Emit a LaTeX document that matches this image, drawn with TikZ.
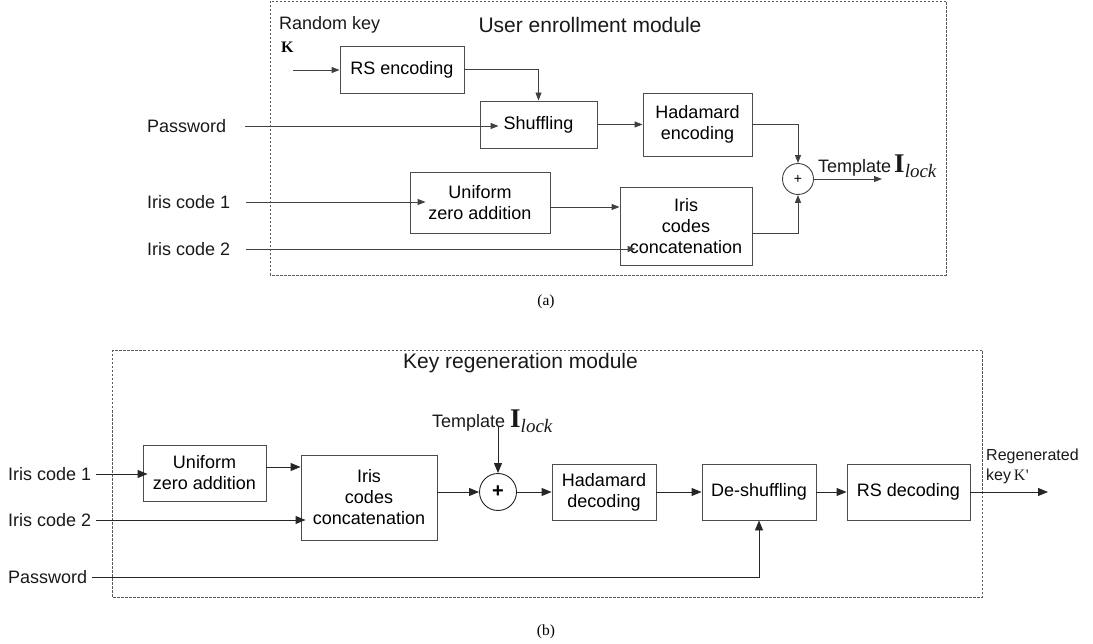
\documentclass[tikz,border=0pt]{standalone}
\usepackage{fontspec}
\setmainfont{Liberation Sans}
\newfontfamily\seriffam{Liberation Serif}
\usetikzlibrary{arrows.meta}
\tikzset{
  box/.style={draw=black!70, line width=0.9pt, align=center, inner sep=2pt, font=\fontsize{18}{21}\selectfont},
  lbl/.style={inner sep=0pt, font=\fontsize{18}{21}\selectfont, text=black!90},
  title/.style={inner sep=0pt, font=\fontsize{21}{24}\selectfont, text=black!90},
  conn/.style={draw=black!75, line width=0.9pt},
  arr/.style={conn, -{Triangle[length=8pt,width=6pt]}},
  arrb/.style={draw=black!85, line width=0.9pt, -{Triangle[length=10pt,width=8pt]}},
  sumc/.style={circle, draw=black!75, line width=0.9pt, inner sep=0pt},
  frame/.style={draw=black!65, line width=0.8pt, dash pattern=on 2.5pt off 1.5pt},
  captext/.style={inner sep=0pt, font=\seriffam\fontsize{15.5}{16}\selectfont}
}
\newcommand{\Ilock}{{\seriffam\fontsize{27}{27}\selectfont\bfseries I}\raisebox{-5pt}{\seriffam\itshape\fontsize{19}{19}\selectfont lock}}
\begin{document}
\begin{tikzpicture}[x=1pt,y=-1pt]
\useasboundingbox (0,0) rectangle (1093,644);
% ---------- (a) ----------
\draw[frame] (270,1) rectangle (946,275);
\node[title, anchor=center] (t1) at (590,25) {User enrollment module};
\node[lbl, anchor=base west] (rk) at (279,30) {Random key};
\node[inner sep=0pt, anchor=base west, font=\seriffam\bfseries\fontsize{16}{16}\selectfont] (kk) at (281,53) {K};
\node[box, minimum width=124, minimum height=47] (rs) at (402,69.5) {RS encoding};
\node[box, minimum width=117, minimum height=47] (shuf) at (538.5,124.5) {Shuffling};
\node[box, minimum width=109, minimum height=63] (hade) at (697.5,124.5) {Hadamard\\encoding};
\node[sumc, minimum size=31, font=\fontsize{14}{14}\selectfont] (c1) at (798,179) {+};
\node[box, minimum width=140, minimum height=61] (uni) at (480,202.5) {Uniform\\zero addition};
\node[box, minimum width=132, minimum height=78] (ic) at (686,226) {Iris\\codes\\concatenation};
\node[lbl, anchor=west] (pw) at (147,126) {Password};
\node[lbl, anchor=west] (ia1) at (147,202) {Iris code 1};
\node[lbl, anchor=west] (ia2) at (147,249) {Iris code 2};
\node[inner sep=0pt, anchor=base west, font=\fontsize{18}{18}\selectfont, text=black!90] (tpl) at (818,173) {Template\,\Ilock};
\coordinate (kin) at (293,70);
\coordinate (tout) at (882,179);

\draw[arr] (kin) -- (kin -| rs.west);
\draw[arr] (rs.east) -| (shuf.north);
\draw[arr] ([xshift=19pt]pw.east) -- ([xshift=19pt]pw.east -| shuf.west);
\draw[arr] (shuf.east) -- (hade.west);
\draw[arr] (hade.east) -| (c1.north);
\draw[arr] (c1.east) -- (tout);
\draw[arr] ([xshift=16pt]ia1.east) -- ([xshift=16pt]ia1.east -| uni.west);
\draw[arr] ([yshift=-4.5pt]uni.east) -- ([yshift=-4.5pt]uni.east -| ic.west);
\draw[arr] ([xshift=16pt]ia2.east) -- ([xshift=16pt]ia2.east -| ic.west);
\draw[arr] ([yshift=-7pt]ic.east) -| (c1.south);
\node[captext] (capa) at (546,302) {(a)};

% ---------- (b) ----------
\draw[frame] (112,350) rectangle (982,597);
\node[title, anchor=center] (t2) at (520.5,363) {Key regeneration module};
\node[box, minimum width=123, minimum height=56] (unib) at (204.5,473) {Uniform\\zero addition};
\node[box, minimum width=136, minimum height=85] (icb) at (369,497.5) {Iris\\codes\\concatenation};
\node[sumc, minimum size=37, draw=black!85, font=\bfseries\fontsize{20}{20}\selectfont] (c2) at (498,492) {+};
\node[box, minimum width=104, minimum height=56] (hadd) at (604,492) {Hadamard\\decoding};
\node[box, minimum width=114, minimum height=56] (desh) at (759,492) {De-shuffling};
\node[box, minimum width=123, minimum height=56] (rsd) at (908.5,492) {RS decoding};
\node[lbl, anchor=west] (ib1) at (8,474) {Iris code 1};
\node[lbl, anchor=west] (ib2) at (8,520) {Iris code 2};
\node[lbl, anchor=west] (pwb) at (8,577) {Password};
\node[inner sep=0pt, anchor=base west, font=\fontsize{18}{18}\selectfont, text=black!90] (tplb) at (432,428) {Template \Ilock};
\coordinate (tin) at (498,426);
\node[inner sep=0pt, anchor=south west, align=left, font=\fontsize{16}{20}\selectfont, text=black!90] (regk) at (986,484) {Regenerated\\key\,{\seriffam\fontsize{16}{16}\selectfont K\kern0.5pt'}};
\coordinate (kout) at (1048,492);

\draw[arrb] ([xshift=5pt]ib1.east) -- ([xshift=5pt]ib1.east -| unib.west);
\draw[arrb] ([yshift=6pt]unib.east) -- ([yshift=6pt]unib.east -| icb.west);
\draw[arrb] ([xshift=5pt]ib2.east) -- ([xshift=5pt]ib2.east -| icb.west);
\draw[arrb] ([yshift=5.5pt]icb.east) -- (c2.west);
\draw[arrb] (tin) -- (c2.north);
\draw[arrb] (c2.east) -- (hadd.west);
\draw[arrb] (hadd.east) -- (desh.west);
\draw[arrb] (desh.east) -- (rsd.west);
\draw[arrb] (rsd.east) -- (kout);
\draw[arrb] ([xshift=5pt]pwb.east) -| (desh.south);
\node[captext] (capb) at (546,632) {(b)};
\end{tikzpicture}
\end{document}
